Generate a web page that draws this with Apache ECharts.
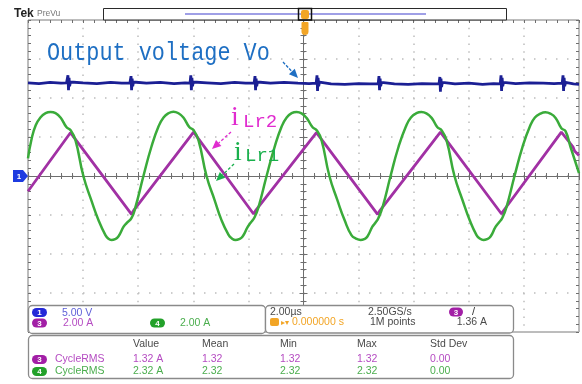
<!DOCTYPE html>
<html>
<head>
<meta charset="utf-8">
<script src="https://cdn.jsdelivr.net/npm/echarts@6/dist/echarts.min.js"></script>
<style>
html, body { margin: 0; padding: 0; background: #fff; }
#scope { width: 582px; height: 384px; }
</style>
</head>
<body>
<div id="scope"></div>
<script>
// Horizontal: 2.00 µs/div over 10 divisions, trigger at the centre
const timeMinUs = -10;
const timeMaxUs = 10;
const timePerDivUs = 2;
// Vertical: 8 divisions, CH1 at 5.00 V/div, CH3/CH4 at 2.00 A/div
const verticalDivs = 8;
const voltsPerDiv = 5;
const ampsPerDiv = 2;

// CH1: output voltage Vo, [time µs, volts]
const voTrace = [
  [-10.0, 11.95], [-9.6, 11.85], [-9.2, 12.0], [-8.8, 11.9], [-8.6, 11.95],
  [-8.57, 12.0], [-8.55, 12.9], [-8.53, 11.0], [-8.51, 12.6], [-8.49, 11.5], [-8.46, 12.05], [-8.42, 11.85],
  [-8.0, 11.95], [-7.5, 11.85], [-7.0, 12.0], [-6.6, 11.9], [-6.3, 11.95],
  [-6.28, 12.0], [-6.26, 12.8], [-6.24, 11.0], [-6.22, 12.5], [-6.2, 11.5], [-6.17, 12.05], [-6.13, 11.85],
  [-5.7, 11.9], [-5.2, 12.0], [-4.7, 11.85], [-4.3, 11.95], [-4.12, 11.9],
  [-4.11, 12.0], [-4.09, 12.9], [-4.07, 11.0], [-4.05, 12.6], [-4.03, 11.5], [-4.0, 12.05], [-3.96, 11.85],
  [-3.5, 11.95], [-3.0, 11.85], [-2.5, 12.0], [-2.1, 11.9], [-1.79, 11.95],
  [-1.78, 12.0], [-1.76, 12.8], [-1.74, 11.0], [-1.72, 12.5], [-1.7, 11.5], [-1.67, 12.05], [-1.63, 11.85],
  [-1.2, 11.9], [-0.7, 12.0], [-0.2, 11.9], [0.2, 11.85], [0.46, 11.9],
  [0.47, 12.0], [0.49, 12.9], [0.51, 10.9], [0.53, 12.6], [0.55, 11.5], [0.58, 12.05], [0.62, 11.8],
  [1.0, 11.8], [1.5, 11.75], [2.0, 11.85], [2.4, 11.8], [2.71, 11.85],
  [2.72, 11.95], [2.74, 12.8], [2.76, 11.0], [2.78, 12.5], [2.8, 11.5], [2.83, 12.0], [2.87, 11.75],
  [3.3, 11.8], [3.8, 11.75], [4.3, 11.85], [4.7, 11.8], [4.92, 11.85],
  [4.93, 11.95], [4.95, 12.7], [4.97, 10.8], [4.99, 12.5], [5.01, 11.4], [5.04, 12.0], [5.08, 11.75],
  [5.5, 11.8], [6.0, 11.9], [6.5, 11.75], [6.9, 11.85], [7.14, 11.8],
  [7.15, 11.95], [7.17, 12.9], [7.19, 10.9], [7.21, 12.6], [7.23, 11.5], [7.26, 12.0], [7.3, 11.75],
  [7.7, 11.85], [8.2, 11.95], [8.7, 11.9], [9.1, 11.85], [9.39, 11.9],
  [9.4, 12.0], [9.42, 12.9], [9.44, 10.9], [9.46, 12.6], [9.48, 11.5], [9.51, 12.0], [9.55, 11.8],
  [9.8, 11.8], [10.0, 11.75]
];

// CH3: resonant inductor current iLr2 (triangular), [time µs, amps]
const iLr2Trace = [
  [-10.0, -0.78],
  [-8.46, 2.22],
  [-6.24, -1.97], [-6.17, -1.78],
  [-3.99, 2.25],
  [-1.81, -1.95], [-1.74, -1.78],
  [0.47, 2.22],
  [2.69, -1.97], [2.76, -1.8],
  [4.97, 2.25],
  [7.19, -1.95], [7.26, -1.78],
  [9.36, 2.25],
  [9.78, 1.5], [9.84, 1.28], [10.0, 1.05]
];

// CH4: resonant inductor current iLr1 (quasi-sinusoidal), [time µs, amps]
const iLr1Trace = [
  [-10.0, 0.9], [-9.87, 1.9], [-9.72, 2.6], [-9.55, 3.0], [-9.36, 3.22], [-9.18, 3.28],
  [-9.0, 3.22], [-8.82, 3.0], [-8.6, 2.5], [-8.46, 2.36], [-8.28, 1.85], [-7.99, 0.0], [-7.7, -1.25],
  [-7.44, -2.27], [-7.19, -3.03], [-7.08, -3.22], [-6.97, -3.28], [-6.84, -3.24], [-6.72, -3.1], [-6.53, -2.6], [-6.42, -2.42],
  [-6.24, -2.15], [-6.1, -1.6], [-5.81, 0.0], [-5.52, 1.5], [-5.26, 2.55], [-5.08, 3.0], [-4.9, 3.22], [-4.72, 3.3],
  [-4.54, 3.22], [-4.36, 3.0], [-4.14, 2.5], [-3.99, 2.35], [-3.81, 1.83], [-3.52, 0.0], [-3.23, -1.22],
  [-2.98, -2.25], [-2.72, -3.02], [-2.6, -3.2], [-2.47, -3.28], [-2.34, -3.24], [-2.21, -3.1], [-2.03, -2.62], [-1.92, -2.4],
  [-1.78, -2.13], [-1.63, -1.58], [-1.34, 0.0], [-1.05, 1.48], [-0.79, 2.55], [-0.61, 3.0], [-0.43, 3.22], [-0.25, 3.28],
  [-0.07, 3.21], [0.11, 2.98], [0.33, 2.5], [0.47, 2.36], [0.65, 1.86], [0.94, 0.0], [1.23, -1.24],
  [1.49, -2.26], [1.74, -3.03], [1.92, -3.22], [2.07, -3.28], [2.2, -3.24], [2.32, -3.1], [2.5, -2.6], [2.61, -2.4],
  [2.72, -2.15], [2.87, -1.6], [3.16, 0.0], [3.45, 1.5], [3.72, 2.55], [3.9, 3.0], [4.1, 3.22], [4.28, 3.28],
  [4.46, 3.21], [4.65, 2.98], [4.86, 2.5], [5.01, 2.35], [5.19, 1.84], [5.48, 0.0], [5.77, -1.23],
  [6.03, -2.26], [6.28, -3.03], [6.4, -3.21], [6.53, -3.28], [6.66, -3.24], [6.79, -3.1], [6.97, -2.61], [7.08, -2.41],
  [7.22, -2.14], [7.37, -1.58], [7.66, 0.0], [7.95, 1.49], [8.22, 2.55], [8.4, 3.0], [8.6, 3.2], [8.78, 3.27],
  [8.96, 3.2], [9.15, 2.98], [9.36, 2.45], [9.51, 2.3], [9.69, 1.5], [10.0, 0.15]
];

// Readout texts
const ch1Scale = '5.00 V';
const ch3Scale = '2.00 A';
const ch4Scale = '2.00 A';
const timebaseText = '2.00\u00b5s';
const sampleRateText = '2.50GS/s';
const recordLengthText = '1M points';
const triggerPosText = '0.000000 s';
const triggerLevelText = '1.36 A';
const measureHeaders = ['Value', 'Mean', 'Min', 'Max', 'Std Dev'];
const ch3CycleRms = ['1.32 A', '1.32', '1.32', '1.32', '0.00'];
const ch4CycleRms = ['2.32 A', '2.32', '2.32', '2.32', '0.00'];

const COL = {
  ch1: '#1b1f94', ch3: '#a131a4', ch4: '#3aab3a',
  grid: '#6e6e6e', dots: '#bdbdbd',
  ch1Badge: '#2428d8', ch3Badge: '#a21fa6', ch4Badge: '#23a12a',
  ch1Text: '#5d5fd8', ch3Text: '#b54cc2', ch4Text: '#4bae4e',
  panelText: '#4a4a4a', orange: '#f2a526'
};

const ampMax = ampsPerDiv * verticalDivs / 2;
const voltMax = voltsPerDiv * verticalDivs / 2;

function valueAxis(base, extra) {
  return Object.assign({
    type: 'value',
    axisLabel: { show: false },
    axisLine: { show: false },
    axisTick: { show: false },
    minorTick: { show: false },
    splitLine: { show: false }
  }, base, extra);
}

const timeBase = { min: timeMinUs, max: timeMaxUs, interval: timePerDivUs };
const ampBase = { min: -ampMax, max: ampMax, interval: ampsPerDiv };
const tickLine = { color: COL.grid, width: 1 };

const chart = echarts.init(document.getElementById('scope'), null, { renderer: 'canvas' });

// Small channel badge: rounded pill with a digit (two flat elements so z applies)
function badge(x, y, color, digit, w) {
  const width = w || 15;
  return [
    { type: 'rect', z: 120, shape: { x: x, y: y, width: width, height: 9, r: 4.5 }, style: { fill: color } },
    { type: 'text', z: 121, x: x + width / 2, y: y + 4.8, style: { text: digit, fill: '#fff', fontSize: 8, fontWeight: 'bold', fontFamily: 'Liberation Sans', align: 'center', verticalAlign: 'middle' } }
  ];
}

function label(x, y, text, color, size, align) {
  return {
    type: 'text', x: x, y: y, z: 110,
    style: { text: text, fill: color, fontSize: size || 10.5, fontFamily: 'Liberation Sans', align: align || 'left', verticalAlign: 'middle' }
  };
}

function arrow(x1, y1, x2, y2, color, dash) {
  const dx = x2 - x1, dy = y2 - y1;
  const len = Math.sqrt(dx * dx + dy * dy);
  const ux = dx / len, uy = dy / len;
  const head = 9, half = 4;
  const bx = x2 - ux * head, by = y2 - uy * head;
  return [
    { type: 'line', z: 60, shape: { x1: x1, y1: y1, x2: bx, y2: by }, style: { stroke: color, lineWidth: 1.3, lineDash: dash } },
    { type: 'polygon', z: 60, shape: { points: [[x2, y2], [bx - uy * half, by + ux * half], [bx + uy * half, by - ux * half]] }, style: { fill: color } }
  ];
}

const measureCols = [133, 202, 280, 357, 430];
const graphics = [];

// Header strip: logo, record view bar and trigger position marker
graphics.push(
  { type: 'text', x: 14, y: 14, z: 110, style: { text: 'Tek', fill: '#222', fontSize: 12, fontWeight: 'bold', fontFamily: 'Liberation Sans', verticalAlign: 'middle' } },
  { type: 'text', x: 37, y: 14, z: 110, style: { text: 'PreVu', fill: '#777', fontSize: 8.5, fontFamily: 'Liberation Sans', verticalAlign: 'middle' } },
  { type: 'rect', z: 110, shape: { x: 103.5, y: 8.5, width: 403, height: 11.5 }, style: { fill: '#fff', stroke: '#2a2a2a', lineWidth: 1 } },
  { type: 'line', z: 111, shape: { x1: 185, y1: 14, x2: 426, y2: 14 }, style: { stroke: '#9f9fe6', lineWidth: 2 } },
  { type: 'rect', z: 112, shape: { x: 301, y: 10, width: 8, height: 9, r: 2 }, style: { fill: COL.orange } },
  { type: 'rect', z: 113, shape: { x: 298.5, y: 8.5, width: 13, height: 11.5 }, style: { fill: 'none', stroke: '#111', lineWidth: 1.5 } },
  { type: 'rect', z: 112, shape: { x: 301.5, y: 22, width: 7, height: 13, r: [1, 1, 3.5, 3.5] }, style: { fill: COL.orange } }
);

// CH1 ground marker on the left edge
graphics.push(
  { type: 'polygon', z: 110, shape: { points: [[13, 170], [23, 170], [28, 176], [23, 182], [13, 182]] }, style: { fill: '#1d3be0' } },
  { type: 'text', x: 19, y: 176.5, z: 111, style: { text: '1', fill: '#fff', fontSize: 8, fontWeight: 'bold', fontFamily: 'Liberation Sans', align: 'center', verticalAlign: 'middle' } }
);

// Waveform annotations
graphics.push(
  { type: 'text', x: 47, y: 53.5, scaleX: 0.84, z: 60, style: { text: 'Output voltage Vo', fill: '#1e6fc3', fontSize: 26, fontFamily: 'Liberation Mono', verticalAlign: 'middle' } },
  ...arrow(283, 62, 298, 78, '#1e6fc3', [3, 1.5]),
  { type: 'text', x: 231, y: 117.5, z: 60, style: { text: 'i', fill: '#e02bcf', fontSize: 28, fontFamily: 'Liberation Serif', verticalAlign: 'middle' } },
  { type: 'text', x: 243, y: 122, z: 60, style: { text: 'Lr2', fill: '#e02bcf', fontSize: 19, fontFamily: 'Liberation Mono', verticalAlign: 'middle' } },
  ...arrow(231, 132, 212, 149, '#e02bcf', [3, 2]),
  { type: 'text', x: 234, y: 152.5, z: 60, style: { text: 'i', fill: '#19b04c', fontSize: 28, fontFamily: 'Liberation Serif', verticalAlign: 'middle' } },
  { type: 'text', x: 245, y: 156, z: 60, style: { text: 'Lr1', fill: '#19b04c', fontSize: 19, fontFamily: 'Liberation Mono', verticalAlign: 'middle' } },
  ...arrow(234, 164, 216, 181, '#19b04c', [3, 2])
);

// Readout panels
const panelStyle = { fill: '#fff', stroke: '#8a8a8a', lineWidth: 1.3 };
graphics.push(
  { type: 'rect', z: 100, shape: { x: 28.5, y: 305.5, width: 237, height: 28, r: 4 }, style: panelStyle },
  { type: 'rect', z: 100, shape: { x: 265.5, y: 305.5, width: 248, height: 27.5, r: 4 }, style: panelStyle },
  { type: 'rect', z: 100, shape: { x: 28.5, y: 335.5, width: 485, height: 43, r: 4 }, style: panelStyle },
  ...badge(32, 308, COL.ch1Badge, '1'),
  label(62, 313, ch1Scale, COL.ch1Text),
  ...badge(32, 318.5, COL.ch3Badge, '3'),
  label(63, 323, ch3Scale, COL.ch3Text),
  ...badge(150, 318.5, COL.ch4Badge, '4'),
  label(180, 323, ch4Scale, COL.ch4Text),
  label(270, 312, timebaseText, COL.panelText),
  label(368, 312, sampleRateText, COL.panelText),
  ...badge(449, 307.5, COL.ch3Badge, '3', 14),
  label(472, 312, '/', '#333', 11),
  { type: 'rect', z: 110, shape: { x: 270, y: 318, width: 9, height: 8, r: 2 }, style: { fill: COL.orange } },
  label(281, 322.5, '\u25b8\u25be', COL.orange, 8),
  label(292, 322.5, triggerPosText, COL.orange),
  label(370, 322.5, recordLengthText, COL.panelText),
  label(487, 322.5, triggerLevelText, COL.panelText, 10.5, 'right'),
  ...badge(32, 355, COL.ch3Badge, '3'),
  label(55, 359.5, 'CycleRMS', COL.ch3Text),
  ...badge(32, 367, COL.ch4Badge, '4'),
  label(55, 371.5, 'CycleRMS', COL.ch4Text)
);
measureHeaders.forEach(function (h, i) { graphics.push(label(measureCols[i], 344, h, COL.panelText)); });
ch3CycleRms.forEach(function (v, i) { graphics.push(label(measureCols[i], 359.5, v, COL.ch3Text)); });
ch4CycleRms.forEach(function (v, i) { graphics.push(label(measureCols[i], 371.5, v, COL.ch4Text)); });

chart.setOption({
  animation: false,
  backgroundColor: '#fff',
  grid: {
    left: 28, top: 20, width: 551, height: 312,
    show: true, backgroundColor: '#fff', borderColor: '#7a7a7a', borderWidth: 1
  },
  xAxis: [
    // centre horizontal line with ticks below it, plus dotted verticals
    valueAxis(timeBase, {
      position: 'bottom',
      axisLine: { show: true, onZero: true, lineStyle: { color: COL.grid, width: 1 } },
      axisTick: { show: true, length: 4, lineStyle: tickLine },
      minorTick: { show: true, splitNumber: 5, length: 3, lineStyle: tickLine },
      splitLine: { show: true, lineStyle: { color: COL.dots, width: 1.5, type: [1.5, 6.3] } }
    }),
    // ticks above the centre line
    valueAxis(timeBase, {
      position: 'bottom',
      axisLine: { show: false, onZero: true },
      axisTick: { show: true, inside: true, length: 4, lineStyle: tickLine },
      minorTick: { show: true, splitNumber: 5, length: 3, lineStyle: tickLine }
    }),
    // ticks along the top frame
    valueAxis(timeBase, {
      position: 'top',
      axisLine: { show: false, onZero: false },
      axisTick: { show: true, inside: true, length: 3, lineStyle: tickLine },
      minorTick: { show: true, splitNumber: 5, length: 3, lineStyle: tickLine }
    })
  ],
  yAxis: [
    // amps scale (CH3/CH4): centre vertical line, ticks to the left, dotted horizontals
    valueAxis(ampBase, {
      position: 'left',
      axisLine: { show: true, onZero: true, lineStyle: { color: COL.grid, width: 1 } },
      axisTick: { show: true, length: 4, lineStyle: tickLine },
      minorTick: { show: true, splitNumber: 5, length: 3, lineStyle: tickLine },
      splitLine: { show: true, lineStyle: { color: COL.dots, width: 1.5, type: [1.5, 9.5] } }
    }),
    // volts scale (CH1)
    valueAxis({ min: -voltMax, max: voltMax, interval: voltsPerDiv }, {
      position: 'left',
      axisLine: { show: false, onZero: true }
    }),
    // ticks to the right of the centre vertical line
    valueAxis(ampBase, {
      position: 'left',
      axisLine: { show: false, onZero: true },
      axisTick: { show: true, inside: true, length: 4, lineStyle: tickLine },
      minorTick: { show: true, splitNumber: 5, length: 3, lineStyle: tickLine }
    }),
    // ticks along the left frame
    valueAxis(ampBase, {
      position: 'left',
      axisLine: { show: false, onZero: false },
      axisTick: { show: true, inside: true, length: 3, lineStyle: tickLine },
      minorTick: { show: true, splitNumber: 5, length: 3, lineStyle: tickLine }
    }),
    // ticks along the right frame
    valueAxis(ampBase, {
      position: 'right',
      axisLine: { show: false, onZero: false },
      axisTick: { show: true, inside: true, length: 3, lineStyle: tickLine },
      minorTick: { show: true, splitNumber: 5, length: 3, lineStyle: tickLine }
    })
  ],
  series: [
    {
      name: 'Vo', type: 'line', xAxisIndex: 0, yAxisIndex: 1, data: voTrace,
      showSymbol: false, symbol: 'none', z: 3,
      lineStyle: { color: COL.ch1, width: 2.8 }
    },
    {
      name: 'iLr2', type: 'line', xAxisIndex: 0, yAxisIndex: 0, data: iLr2Trace,
      showSymbol: false, symbol: 'none', z: 4,
      lineStyle: { color: COL.ch3, width: 2.8 }
    },
    {
      name: 'iLr1', type: 'line', xAxisIndex: 0, yAxisIndex: 0, data: iLr1Trace,
      showSymbol: false, symbol: 'none', smooth: 0.5, z: 5,
      lineStyle: { color: COL.ch4, width: 2.5 }
    }
  ],
  graphic: { elements: graphics }
});
</script>
</body>
</html>
